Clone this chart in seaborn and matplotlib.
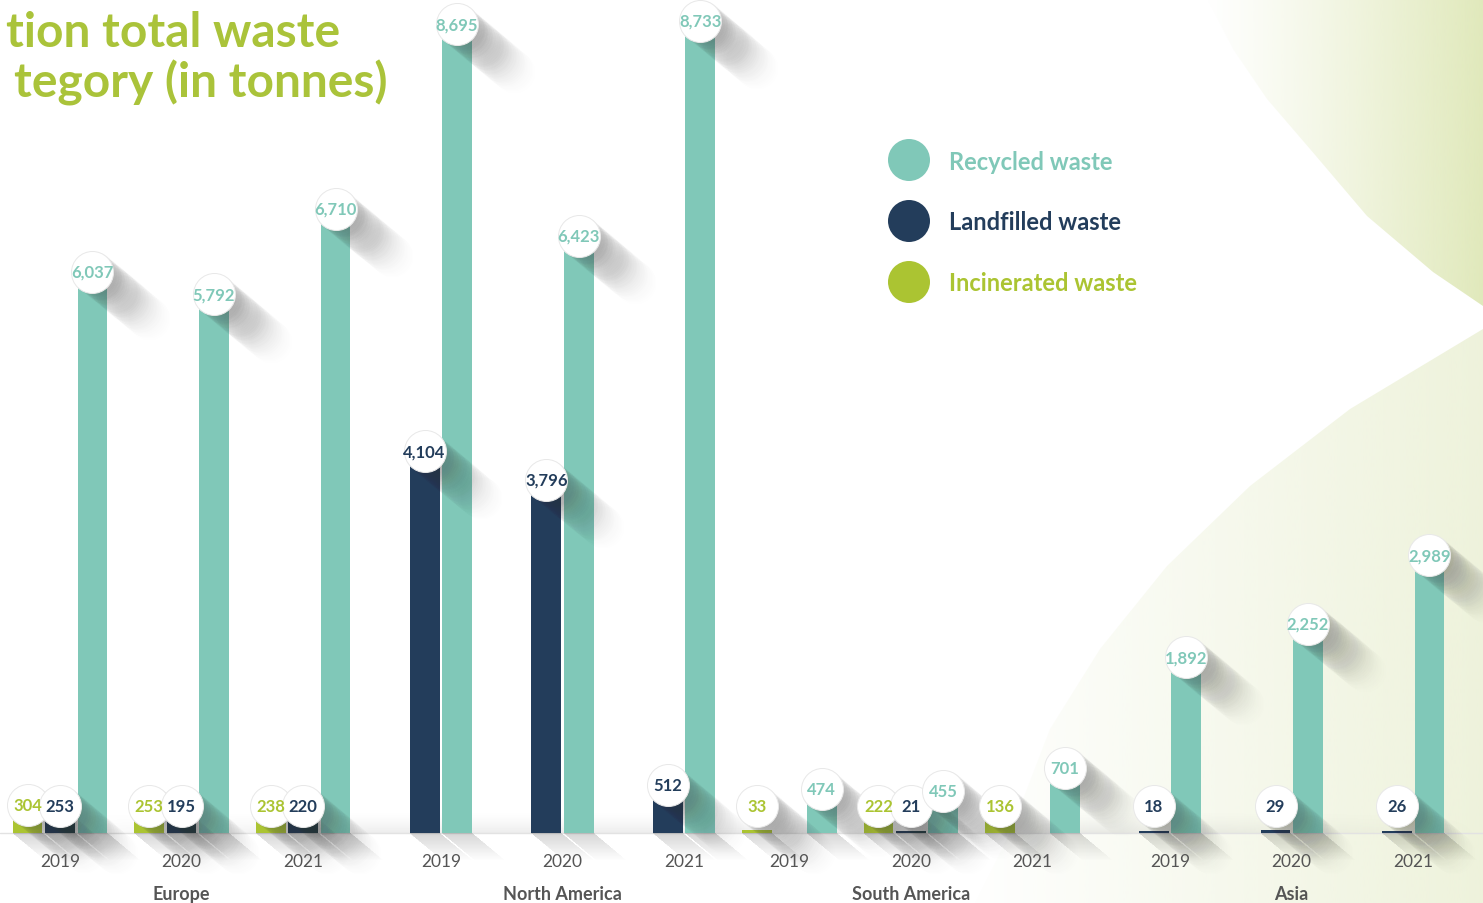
import numpy as np
import pandas as pd
import matplotlib
matplotlib.use("Agg")
import matplotlib.pyplot as plt
import seaborn as sns
from matplotlib.patches import Polygon, Circle

# ---- data -------------------------------------------------------------
regions = ["Europe", "North America", "South America", "Asia"]
years = ["2019", "2020", "2021"]
categories = ["Incinerated waste", "Landfilled waste", "Recycled waste"]
incinerated = [304, 253, 238, np.nan, np.nan, np.nan, 33, 222, 136, np.nan, np.nan, np.nan]
landfilled = [253, 195, 220, 4104, 3796, 512, np.nan, 21, np.nan, 18, 29, 26]
recycled = [6037, 5792, 6710, 8695, 6423, 8733, 474, 455, 701, 1892, 2252, 2989]

GREEN = "#abc432"
NAVY = "#233d5b"
TEAL = "#80c8b8"
GREY = "#555555"
palette = {categories[0]: GREEN, categories[1]: NAVY, categories[2]: TEAL}

groups = [f"{r} {y}" for r in regions for y in years]
rows = []
for cat, vals in zip(categories, [incinerated, landfilled, recycled]):
    for g, v in zip(groups, vals):
        if not np.isnan(v):
            rows.append({"group": g, "category": cat, "tonnes": v})
df = pd.DataFrame(rows)

# ---- figure / scales --------------------------------------------------
W, H = 1483, 904
sns.set_theme(style="white")
plt.rcParams["font.family"] = ["Lato", "DejaVu Sans"]
fig = plt.figure(figsize=(W / 100, H / 100), dpi=100)
fig.patch.set_facecolor("white")

# pixel-space layer for the backdrop, title and legend
bg = fig.add_axes([0, 0, 1, 1], zorder=0)
bg.set_xlim(0, W)
bg.set_ylim(H, 0)
bg.axis("off")


def gradient_shape(pts, x0, x1, color, amax, power=1.2):
    """Fill a polygon with a left-to-right fade into `color`."""
    n = 400
    a = np.linspace(0, 1, n) ** power * amax
    img = np.zeros((1, n, 4))
    img[..., :3] = matplotlib.colors.to_rgb(color)
    img[..., 3] = a
    im = bg.imshow(img, extent=(x0, x1, H, 0), aspect="auto", zorder=0,
                   interpolation="bilinear")
    poly = Polygon(pts, closed=True, transform=bg.transData, facecolor="none",
                   edgecolor="none")
    bg.add_patch(poly)
    im.set_clip_path(poly)


gradient_shape([(1207, 0), (1233, 50), (1267, 100), (1310, 150), (1367, 217),
                (1433, 273), (1483, 307), (1483, 0)], 1200, 1483, "#dfe8b8", 0.95)
gradient_shape([(1483, 330), (1350, 410), (1250, 487), (1167, 567), (1100, 650),
                (1050, 730), (1010, 834), (975, 904), (1483, 904)],
               960, 1483, "#e4ebc6", 0.62, power=1.0)

# title
bg.text(340, 47, "tion total waste", ha="right", va="baseline",
        fontsize=34.5, fontweight="bold", color="#aac33a")
bg.text(388, 97, "tegory (in tonnes)", ha="right", va="baseline",
        fontsize=34.5, fontweight="bold", color="#aac33a")

# legend
for i, (cat, col) in enumerate([(categories[2], TEAL), (categories[1], NAVY),
                                 (categories[0], GREEN)]):
    cy = 161 + i * 61
    bg.add_patch(Circle((909, cy), 21, facecolor=col, edgecolor="none"))
    bg.text(949, cy + 1, cat, ha="left", va="center", fontsize=17,
            fontweight="bold", color=col)

# ---- bars ---------------------------------------------------------------
ax = fig.add_axes([0, 0, 1, 1], zorder=1)
ax.patch.set_alpha(0)
sns.barplot(data=df, x="group", y="tonnes", hue="category", order=groups,
            hue_order=categories, palette=palette, width=0.8, gap=0.08,
            errorbar=None, saturation=1, legend=False, linewidth=0,
            zorder=3, ax=ax)
PX_PER_GROUP = 121.55
PX_PER_T = 0.093
BASE = 834
ax.set_xlim(-60 / PX_PER_GROUP, (W - 60) / PX_PER_GROUP)
ax.set_ylim(-(H - BASE) / PX_PER_T, BASE / PX_PER_T)
ax.axis("off")

dxp = 1 / PX_PER_GROUP   # data units per pixel, x
dyp = 1 / PX_PER_T       # data units per pixel, y
xl = ax.get_xlim()

# soft grey band just above the baseline
band_h = 22
ny, nx = 40, 300
vy = np.linspace(0, 1, ny)[:, None] ** 1.5
hx = np.linspace(0, 1, nx)[None, :]
env = np.clip(np.minimum(hx / 0.25, (1 - hx) / 0.22), 0, 1)
band = np.zeros((ny, nx, 4))
band[..., :3] = 0.55
band[..., 3] = 0.16 * vy * env
ax.imshow(band, extent=(xl[0], xl[1], 0, band_h * dyp), origin="upper",
          aspect="auto", zorder=1, interpolation="bilinear")
ax.axhline(0, color="#e2e2e2", lw=1.0, zorder=2)

step = 0.8 / 3
bw = step * 0.92
offsets = [-step, 0, step]
series = [incinerated, landfilled, recycled]
colors = [GREEN, NAVY, TEAL]
sdir = np.array([0.77, -0.64])

# shadows cast below the baseline by each bar
for k, vals in enumerate(series):
    for g, v in enumerate(vals):
        if np.isnan(v):
            continue
        cx = g + offsets[k]
        x0, x1 = cx - bw / 2, cx + bw / 2
        for L in np.linspace(2, 42, 20):
            ddx, ddy = L * sdir[0] * dxp, L * sdir[1] * dyp
            ax.add_patch(Polygon([(x0, 0), (x1, 0), (x1 + ddx, ddy), (x0 + ddx, ddy)],
                                 closed=True, facecolor="#555555", alpha=0.011,
                                 edgecolor="none", zorder=2))

# value bubbles with long shadows fading away from the bubble
circ_s = (42 * 0.72) ** 2
shadow_len = 82
for g in range(len(groups)):
    for k, vals in enumerate(series):
        v = vals[g]
        if np.isnan(v):
            continue
        cx = g + offsets[k]
        cy = max(v, 290)
        for t in np.linspace(1, shadow_len, 40):
            a = 0.031 * (1 - t / (shadow_len + 4)) ** 1.3
            ax.scatter(cx + t * sdir[0] * dxp, cy + t * sdir[1] * dyp, s=circ_s,
                       color="#333333", alpha=a, linewidths=0, zorder=5)
        ax.scatter(cx, cy, s=circ_s, color="white", edgecolors="#e8e8e8",
                   linewidths=0.7, zorder=6)
        ax.text(cx, cy, f"{int(v):,}", ha="center", va="center", fontsize=12,
                fontweight="bold", color=colors[k], zorder=7)

# year and region labels
for g in range(len(groups)):
    present = [g + offsets[k] for k in range(3) if not np.isnan(series[k][g])]
    xc = float(np.mean(present))
    ax.text(xc, -(862 - BASE) * dyp, years[g % 3], ha="center", va="center",
            fontsize=12.5, fontweight="normal", color=GREY, zorder=7)
    if g % 3 == 1:
        ax.text(xc, -(895 - BASE) * dyp, regions[g // 3], ha="center",
                va="center", fontsize=13, fontweight="bold", color=GREY, zorder=7)

fig.savefig("out.png", dpi=100, facecolor="white")
